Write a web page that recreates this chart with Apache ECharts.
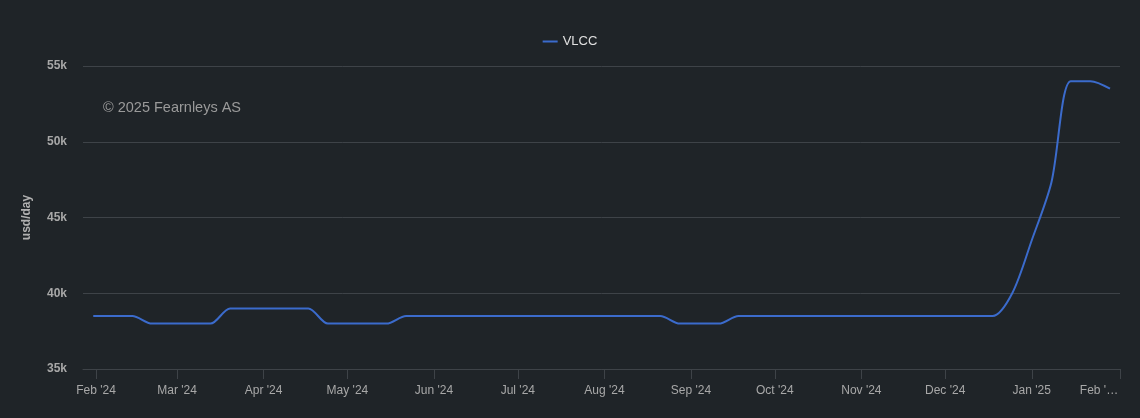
<!DOCTYPE html>
<html>
<head>
<meta charset="utf-8">
<script src="https://cdn.jsdelivr.net/npm/echarts@6/dist/echarts.min.js"></script>
<style>
html,body{margin:0;padding:0;background:#1f2428;}
#chart{width:1140px;height:418px;}
</style>
</head>
<body>
<div id="chart"></div>
<script>
const seriesName = 'VLCC';
const dates = [
  '2024-01-31','2024-02-07','2024-02-14','2024-02-21','2024-02-28',
  '2024-03-06','2024-03-13','2024-03-20','2024-03-27',
  '2024-04-03','2024-04-10','2024-04-17','2024-04-24',
  '2024-05-01','2024-05-08','2024-05-15','2024-05-22','2024-05-29',
  '2024-06-05','2024-06-12','2024-06-19','2024-06-26',
  '2024-07-03','2024-07-10','2024-07-17','2024-07-24','2024-07-31',
  '2024-08-07','2024-08-14','2024-08-21','2024-08-28',
  '2024-09-04','2024-09-11','2024-09-18','2024-09-25',
  '2024-10-02','2024-10-09','2024-10-16','2024-10-23','2024-10-30',
  '2024-11-06','2024-11-13','2024-11-20','2024-11-27',
  '2024-12-04','2024-12-11','2024-12-18','2024-12-25',
  '2025-01-01','2025-01-08','2025-01-15','2025-01-22','2025-01-29'
];
const values = [
  38500,38500,38500,38000,38000,
  38000,38000,39000,39000,
  39000,39000,39000,38000,
  38000,38000,38000,38500,38500,
  38500,38500,38500,38500,
  38500,38500,38500,38500,38500,
  38500,38500,38500,38000,
  38000,38000,38500,38500,
  38500,38500,38500,38500,38500,
  38500,38500,38500,38500,
  38500,38500,38500,40000,
  43500,47300,54000,54000,53500
];
const yTicks = [35000, 40000, 45000, 50000, 55000];
const monthNames = ['Jan','Feb','Mar','Apr','May','Jun','Jul','Aug','Sep','Oct','Nov','Dec'];
const watermark = '\u00A9 2025 Fearnleys AS';
const yAxisTitle = 'usd/day';

const FONT = '"Liberation Sans", Arial, Helvetica, sans-serif';
const axisMin = new Date('2024-01-27T08:00:00Z').getTime();
const axisMax = new Date('2025-02-01T14:00:00Z').getTime();
const firstTick = new Date('2024-02-01T00:00:00Z').getTime();
const lastTick = new Date('2025-02-01T00:00:00Z').getTime();

const chart = echarts.init(document.getElementById('chart'), null, {renderer:'canvas'});
chart.setOption({
  backgroundColor: '#1f2428',
  animation: false,
  textStyle: {fontFamily: FONT},
  legend: {
    top: 30,
    left: 'center',
    icon: 'rect',
    itemWidth: 15,
    itemHeight: 2,
    itemGap: 6,
    textStyle: {color: '#e0e0e0', fontSize: 13, fontFamily: FONT},
    data: [seriesName]
  },
  graphic: [{
    type: 'text',
    left: 103,
    top: 100,
    style: {text: watermark, fill: '#9a9a9a', fontSize: 14.5, fontFamily: FONT}
  }],
  grid: {left: 83, right: 20, top: 66, bottom: 49, containLabel: false},
  xAxis: {
    type: 'time',
    min: axisMin,
    max: axisMax,
    minInterval: 28 * 86400000,
    maxInterval: 31 * 86400000,
    axisLine: {show: true, lineStyle: {color: '#3e4348'}},
    axisTick: {show: true, length: 10, lineStyle: {color: '#3e4348'}},
    splitLine: {show: false},
    axisLabel: {
      color: '#a8a8a8',
      fontSize: 12,
      fontFamily: FONT,
      margin: 16,
      hideOverlap: false,
      showMinLabel: false,
      showMaxLabel: true,
      rich: {
        last: {color: '#a8a8a8', fontSize: 12, fontFamily: FONT, padding: [0, 42, 0, 0]}
      },
      formatter: function (v) {
        if (v < firstTick - 86400000) return '';
        const d = new Date(v);
        const m = monthNames[d.getUTCMonth()];
        const y = String(d.getUTCFullYear()).slice(2);
        if (v >= lastTick - 86400000) return '{last|' + m + " '\u2026}";
        return m + " '" + y;
      }
    }
  },
  yAxis: {
    type: 'value',
    min: yTicks[0],
    max: yTicks[yTicks.length - 1],
    interval: 5000,
    name: yAxisTitle,
    nameLocation: 'middle',
    nameGap: 50,
    nameRotate: 90,
    nameTextStyle: {color: '#b0b0b0', fontSize: 12, fontWeight: 'bold', fontFamily: FONT},
    axisLine: {show: false},
    axisTick: {show: false},
    splitLine: {lineStyle: {color: '#3e4348', width: 1}},
    axisLabel: {
      color: '#a8a8a8',
      fontSize: 12,
      fontWeight: 'bold',
      fontFamily: FONT,
      margin: 16,
      padding: [3, 0, 0, 0],
      formatter: function (v) { return (v / 1000) + 'k'; }
    }
  },
  series: [{
    name: seriesName,
    type: 'line',
    data: dates.map(function (d, i) { return [d, values[i]]; }),
    smooth: 0.3,
    showSymbol: false,
    symbol: 'none',
    lineStyle: {color: '#3b6bcc', width: 2},
    itemStyle: {color: '#3b6bcc'}
  }]
});
</script>
</body>
</html>
